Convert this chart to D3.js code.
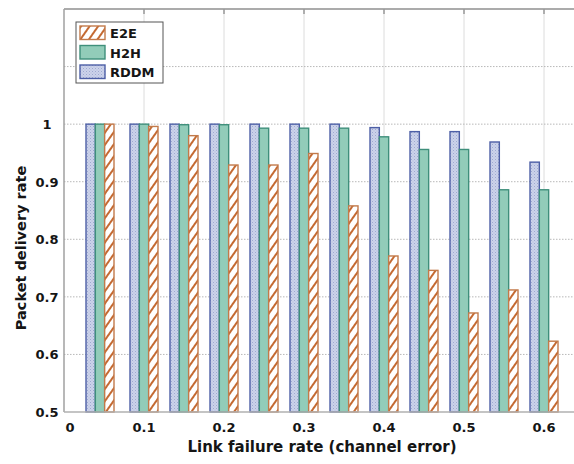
<!DOCTYPE html>
<html>
<head>
<meta charset="utf-8">
<script src="https://cdn.jsdelivr.net/npm/d3@7"></script>
<style>
  html, body { margin: 0; padding: 0; background: #fff; }
  svg { display: block; font-family: "DejaVu Sans", "Open Sans", sans-serif; }
</style>
</head>
<body>
<svg id="chart" width="574" height="464"></svg>
<script>
// Link failure rates for each bar group
const failureRates = [0.045, 0.1, 0.15, 0.2, 0.25, 0.3, 0.35, 0.4, 0.45, 0.5, 0.55, 0.6];

// Packet delivery rate per scheme
const rddm = [1.0, 1.0, 1.0, 1.0, 1.0, 1.0, 1.0, 0.994, 0.987, 0.987, 0.969, 0.934];
const h2h  = [1.0, 1.0, 0.999, 0.999, 0.993, 0.993, 0.993, 0.978, 0.956, 0.956, 0.886, 0.886];
const e2e  = [1.0, 0.996, 0.980, 0.929, 0.929, 0.949, 0.858, 0.771, 0.746, 0.672, 0.712, 0.623];

const seriesNames = ["RDDM", "H2H", "E2E"];
const legendOrder = ["E2E", "H2H", "RDDM"];

const xTicks = [0, 0.1, 0.2, 0.3, 0.4, 0.5, 0.6];
const yTicks = [0.5, 0.6, 0.7, 0.8, 0.9, 1];
const yGrid = [0.6, 0.7, 0.8, 0.9, 1, 1.1];

const xTitle = "Link failure rate (channel error)";
const yTitle = "Packet delivery rate";

const svg = d3.select("#chart");
const plotLeft = 64, plotTop = 9, plotRight = 576, plotBottom = 412;

const x = d3.scaleLinear().domain([0, 0.64]).range([plotLeft, plotRight]);
const y = d3.scaleLinear().domain([0.5, 1.2]).range([plotBottom, plotTop]);

// Patterns for the bar fills
const defs = svg.append("defs");
const hatch = defs.append("pattern")
  .attr("id", "hatch").attr("patternUnits", "userSpaceOnUse")
  .attr("width", 7).attr("height", 7)
  .attr("patternTransform", "rotate(35)");
hatch.append("rect").attr("width", 7).attr("height", 7).attr("fill", "#fff");
hatch.append("rect").attr("x", 0).attr("width", 2).attr("height", 7).attr("fill", "#c46a32");

const dots = defs.append("pattern")
  .attr("id", "dots").attr("patternUnits", "userSpaceOnUse")
  .attr("width", 3).attr("height", 3);
dots.append("rect").attr("width", 3).attr("height", 3).attr("fill", "#ccd3ea");
dots.append("rect").attr("x", 0).attr("y", 0).attr("width", 1).attr("height", 1).attr("fill", "#9ea8d0");
dots.append("rect").attr("x", 1.5).attr("y", 1.5).attr("width", 1).attr("height", 1).attr("fill", "#b0b9dc");

const styles = {
  RDDM: { fill: "url(#dots)", stroke: "#4d5fa6" },
  H2H:  { fill: "#92ccb9", stroke: "#3f8f7b" },
  E2E:  { fill: "url(#hatch)", stroke: "#c27a4a" }
};
const values = { RDDM: rddm, H2H: h2h, E2E: e2e };

// Grid: solid vertical lines, dotted horizontal lines
svg.append("g").selectAll("line").data(xTicks.filter(d => d > 0)).join("line")
  .attr("x1", d => x(d)).attr("x2", d => x(d))
  .attr("y1", plotTop).attr("y2", plotBottom)
  .attr("stroke", "#dcdcdc").attr("stroke-width", 1);

svg.append("g").selectAll("line").data(yGrid).join("line")
  .attr("x1", plotLeft).attr("x2", 574)
  .attr("y1", d => y(d)).attr("y2", d => y(d))
  .attr("stroke", "#b8b8b8").attr("stroke-width", 1)
  .attr("stroke-dasharray", "1.5,1.5");

// Bars
const step = x(0.05) - x(0);
const bw = step * 0.7 / 3;
const groups = svg.append("g");
seriesNames.forEach((name, si) => {
  const off = (si - 1) * bw;
  groups.append("g").selectAll("rect").data(values[name]).join("rect")
    .attr("x", (d, i) => x(failureRates[i]) + off - bw / 2)
    .attr("y", d => y(d))
    .attr("width", bw)
    .attr("height", d => y(0.5) - y(d))
    .attr("fill", styles[name].fill)
    .attr("stroke", styles[name].stroke)
    .attr("stroke-width", 1.4);
});

// Frame: top border, left and bottom axis lines
svg.append("line").attr("x1", plotLeft).attr("x2", 574).attr("y1", plotTop).attr("y2", plotTop)
  .attr("stroke", "#ababab").attr("stroke-width", 2);
svg.append("line").attr("x1", plotLeft).attr("x2", plotLeft).attr("y1", plotTop).attr("y2", plotBottom)
  .attr("stroke", "#a0a0a0").attr("stroke-width", 1.5);
svg.append("line").attr("x1", plotLeft).attr("x2", 574).attr("y1", plotBottom).attr("y2", plotBottom)
  .attr("stroke", "#b0b0b0").attr("stroke-width", 1.5);

// Small tick marks along the top border
svg.append("g").selectAll("line").data(xTicks.filter(d => d > 0)).join("line")
  .attr("x1", d => x(d)).attr("x2", d => x(d))
  .attr("y1", plotTop).attr("y2", plotTop + 5)
  .attr("stroke", "#999").attr("stroke-width", 1.5);

// Tick labels
svg.append("g").selectAll("text").data(xTicks).join("text")
  .attr("x", d => x(d) + (d === 0 ? 6 : 0))
  .attr("y", 432)
  .attr("text-anchor", "middle")
  .attr("font-size", 13).attr("font-weight", 700).attr("fill", "#151515")
  .text(d => d === 0 ? "0" : d3.format(".1f")(d));

svg.append("g").selectAll("text").data(yTicks).join("text")
  .attr("x", 47)
  .attr("y", d => y(d) + 5)
  .attr("text-anchor", "middle")
  .attr("font-size", 13).attr("font-weight", 700).attr("fill", "#151515")
  .text(d => d === 1 ? "1" : d3.format(".1f")(d));

// Axis titles
svg.append("text")
  .attr("x", 322).attr("y", 452)
  .attr("text-anchor", "middle")
  .attr("font-size", 15).attr("font-weight", 700).attr("fill", "#151515")
  .text(xTitle);

svg.append("text")
  .attr("transform", "translate(26,248) rotate(-90)")
  .attr("text-anchor", "middle")
  .attr("font-size", 14.5).attr("font-weight", 700).attr("fill", "#151515")
  .text(yTitle);

// Legend
const lg = svg.append("g").attr("transform", "translate(76,22)");
lg.append("rect").attr("width", 87).attr("height", 61)
  .attr("fill", "#fff").attr("stroke", "#555").attr("stroke-width", 1);
legendOrder.forEach((name, i) => {
  const row = lg.append("g").attr("transform", `translate(4,${4 + i * 19.5})`);
  row.append("rect").attr("width", 25).attr("height", 13.5)
    .attr("fill", styles[name].fill).attr("stroke", styles[name].stroke).attr("stroke-width", 1.4);
  row.append("text").attr("x", 30).attr("y", 12)
    .attr("font-size", 13).attr("font-weight", 700).attr("fill", "#151515")
    .text(name);
});
</script>
</body>
</html>
